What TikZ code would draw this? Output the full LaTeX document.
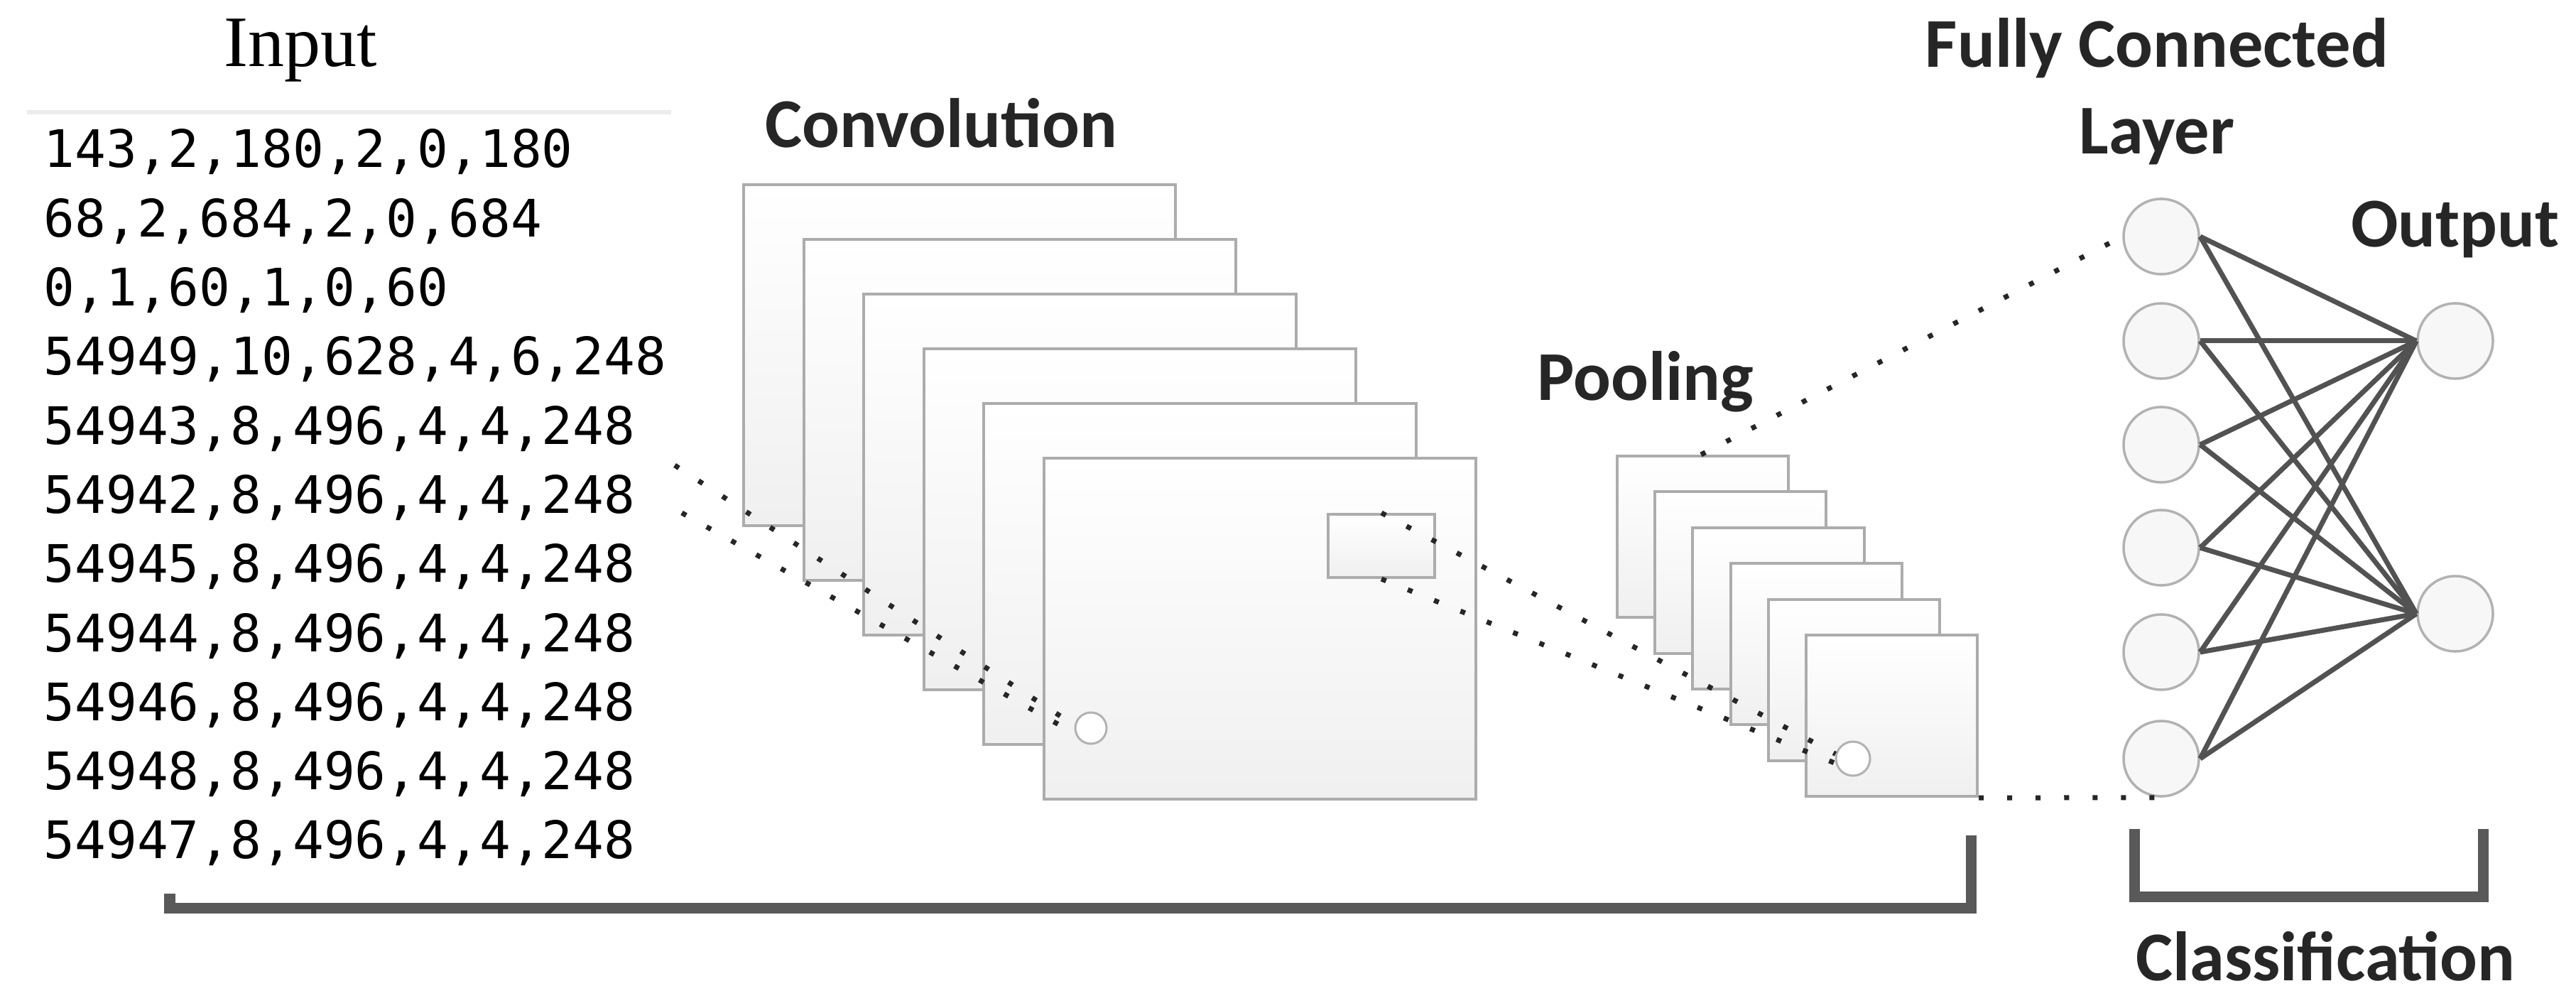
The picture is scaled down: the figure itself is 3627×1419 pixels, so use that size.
\documentclass[tikz,border=0pt]{standalone}
\usepackage{fontspec}
\setmainfont{Liberation Serif}
\newfontfamily\lblfont{Carlito}
\newfontfamily\monofont{DejaVu Sans Mono}
\begin{document}
\begin{tikzpicture}[x=0.01cm,y=-0.01cm,
  sheet/.style={draw=gray!65,line width=0.04cm,top color=white,bottom color=gray!12,rectangle,inner sep=0pt,anchor=north west},
  conv/.style={sheet,minimum width=6.08cm,minimum height=4.8cm},
  pool/.style={sheet,minimum width=2.41cm,minimum height=2.27cm},
  neuron/.style={circle,draw=gray!60,line width=0.035cm,fill=gray!6,minimum size=1.06cm,inner sep=0pt},
  dots/.style={line width=0.07cm,dash pattern=on 0.07cm off 0.33cm,black!85},
  edge/.style={draw=black!68,line width=0.07cm},
  lbl/.style={font=\lblfont\bfseries\fontsize{28}{30}\selectfont,anchor=base,text=black!85},
  data/.style={font=\monofont\fontsize{20.7}{22}\selectfont,anchor=west,inner sep=0pt},
  brk/.style={draw=black!65,line width=0.15cm}]
\useasboundingbox (0,0) rectangle (3627,1419);
% Input
\node[font=\fontsize{29}{30}\selectfont,anchor=base] (input) at (423,94) {Input};
\draw[gray!15,line width=0.06cm] (38,158) -- (945,158);
\foreach \t [count=\i from 0] in {{143,2,180,2,0,180},{68,2,684,2,0,684},{0,1,60,1,0,60},{54949,10,628,4,6,248},{54943,8,496,4,4,248},{54942,8,496,4,4,248},{54945,8,496,4,4,248},{54944,8,496,4,4,248},{54946,8,496,4,4,248},{54948,8,496,4,4,248},{54947,8,496,4,4,248}}
  \node[data] (d\i) at (61,214+97.3*\i) {\t};
% Convolution
\node[lbl] (convl) at (1325,208) {Convolution};
\foreach \k in {0,...,5}
  \node[conv] (c\k) at (1045+84.6*\k,258+77*\k) {};
\node[sheet,minimum width=1.5cm,minimum height=0.89cm] (sr) at (1868,722) {};
\node[circle,draw=gray!60,line width=0.03cm,fill=white,minimum size=0.44cm,inner sep=0pt] (cc) at (1536,1025) {};
% Pooling
\node[lbl] (pooll) at (2317,564) {Pooling};
\foreach \k in {0,...,5}
  \node[pool] (p\k) at (2275+53.2*\k,640+50.4*\k) {};
\node[circle,draw=gray!60,line width=0.03cm,fill=white,minimum size=0.48cm,inner sep=0pt] (pc) at (2609,1068) {};
% Fully connected
\node[lbl] (fc1) at (3037,95) {Fully Connected};
\node[lbl] (fc2) at (3037,217) {Layer};
\node[lbl] (outl) at (3457,348) {Output};
\foreach \y [count=\i] in {333,480,626,771,918,1068}
  \node[neuron] (h\i) at (3043,\y) {};
\node[neuron] (o1) at (3457,480) {};
\node[neuron] (o2) at (3457,864) {};
\foreach \i in {1,...,6}
  \foreach \j in {1,2}
    \draw[edge] (h\i.east) -- (o\j.west);
% dotted connectors
\coordinate (ia) at (950,655);
\coordinate (ib) at (960,722);
\draw[dots] (ia) -- (cc.170);
\draw[dots] (ib) -- (cc.200);
\draw[dots] (sr.north) -- (pc.165);
\draw[dots] (sr.south) -- (pc.195);
\coordinate (pt) at (2395,640);
\draw[dots] (pt) -- (h1.west);
\draw[dots] (p5.south east) -- (h6.south);
% brackets
\draw[brk] (239,1258) -- (239,1278) -- (2775,1278) -- (2775,1176);
\draw[brk] (3005,1167) -- (3005,1262) -- (3496,1262) -- (3496,1167);
\node[lbl] (cls) at (3274,1380) {Classification};
\end{tikzpicture}
\end{document}
